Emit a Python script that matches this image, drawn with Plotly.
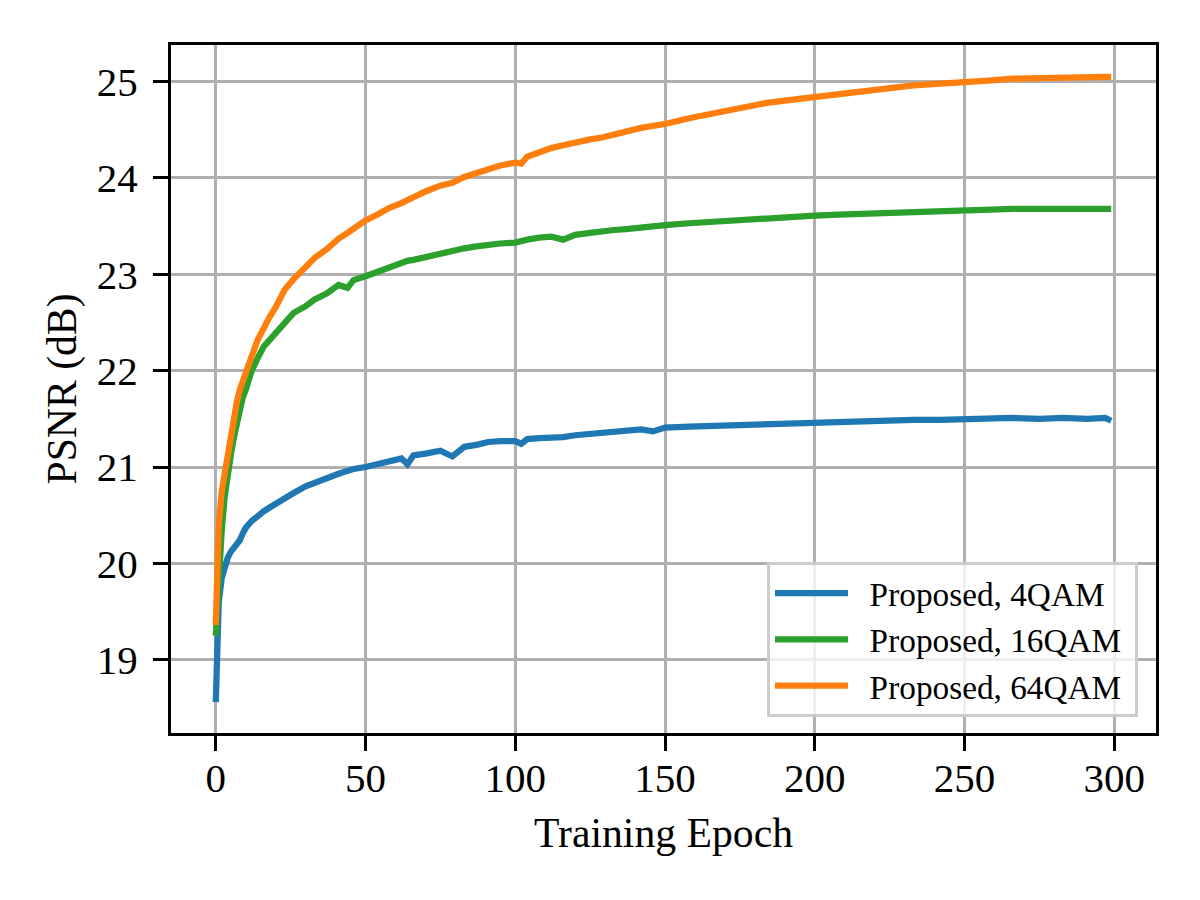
import plotly.graph_objects as go

# training epochs (sampled off the curves)
epochs = [0, 1, 2, 3, 4, 5, 6, 7, 8, 9, 10, 12, 14, 16, 18, 20, 23, 26, 30, 33,
          37, 41, 44, 46, 50, 54, 58, 62, 64, 66, 70, 75, 79, 83, 87, 91, 95, 100,
          102, 104, 108, 112, 116, 120, 125, 129, 133, 137, 142, 146, 150, 158,
          167, 175, 184, 192, 200, 208, 216, 225, 233, 242, 250, 258, 266, 275,
          283, 291, 297, 299]

psnr_4qam = [18.56, 19.60, 19.85, 19.98, 20.06, 20.12, 20.16, 20.19, 20.24, 20.31,
             20.37, 20.44, 20.50, 20.54, 20.58, 20.62, 20.67, 20.73, 20.80, 20.84,
             20.88, 20.93, 20.96, 20.98, 21.00, 21.03, 21.07, 21.09, 21.03, 21.12,
             21.14, 21.17, 21.11, 21.21, 21.23, 21.26, 21.27, 21.27, 21.24, 21.29,
             21.30, 21.30, 21.31, 21.33, 21.34, 21.36, 21.37, 21.38, 21.39, 21.37,
             21.41, 21.42, 21.43, 21.44, 21.44, 21.45, 21.46, 21.47, 21.48, 21.48,
             21.49, 21.49, 21.50, 21.50, 21.51, 21.50, 21.51, 21.50, 21.51, 21.48]

psnr_16qam = [19.25, 19.95, 20.35, 20.70, 20.95, 21.12, 21.30, 21.45, 21.60, 21.72,
              21.80, 22.00, 22.13, 22.25, 22.32, 22.39, 22.50, 22.60, 22.67, 22.74,
              22.80, 22.89, 22.86, 22.94, 22.98, 23.03, 23.08, 23.12, 23.14, 23.15,
              23.18, 23.22, 23.25, 23.27, 23.29, 23.31, 23.32, 23.33, 23.35, 23.36,
              23.38, 23.39, 23.36, 23.41, 23.43, 23.45, 23.46, 23.47, 23.48, 23.50,
              23.51, 23.53, 23.55, 23.57, 23.59, 23.60, 23.61, 23.62, 23.63, 23.64,
              23.65, 23.66, 23.66, 23.67, 23.68, 23.68, 23.68, 23.69, 23.68, 23.68]

psnr_64qam = [19.36, 20.40, 20.75, 20.95, 21.15, 21.32, 21.50, 21.67, 21.80, 21.90,
              22.00, 22.15, 22.32, 22.45, 22.56, 22.66, 22.84, 22.95, 23.08, 23.17,
              23.26, 23.37, 23.43, 23.47, 23.56, 23.62, 23.69, 23.74, 23.77, 23.81,
              23.86, 23.92, 23.95, 24.01, 24.05, 24.09, 24.13, 24.16, 24.15, 24.22,
              24.27, 24.31, 24.34, 24.37, 24.40, 24.42, 24.45, 24.49, 24.52, 24.54,
              24.56, 24.62, 24.68, 24.73, 24.78, 24.81, 24.84, 24.87, 24.90, 24.93,
              24.96, 24.98, 24.99, 25.01, 25.03, 25.04, 25.04, 25.05, 25.05, 25.05]

series = [
    ('Proposed, 4QAM', psnr_4qam, '#1f77b4'),
    ('Proposed, 16QAM', psnr_16qam, '#2ca02c'),
    ('Proposed, 64QAM', psnr_64qam, '#ff7f0e'),
]

FONT = 'Liberation Serif, Times New Roman, serif'
GAP = '\u00a0' * 2  # space between legend line and label

fig = go.Figure()
for name, vals, color in series:
    fig.add_trace(go.Scatter(x=epochs, y=vals, mode='lines', name=GAP + name + '\u00a0',
                             line=dict(color=color, width=6.25)))

axis_style = dict(showline=True, linewidth=3.3, linecolor='black', mirror=True,
                  ticks='outside', ticklen=15, tickwidth=3.3, tickcolor='black',
                  showgrid=True, gridcolor='#b0b0b0', gridwidth=3.3,
                  zeroline=False, tickfont=dict(size=41, color='black'))

fig.update_xaxes(range=[-14.95, 313.95], tickvals=[0, 50, 100, 150, 200, 250, 300],
                 ticklabelstandoff=-8,
                 title=dict(text='Training Epoch', font=dict(size=41.7, color='black'),
                            standoff=18), **axis_style)
fig.update_yaxes(range=[18.24, 25.38], tickvals=[19, 20, 21, 22, 23, 24, 25],
                 ticklabelstandoff=7,
                 title=dict(text='PSNR (dB)', font=dict(size=41.7, color='black'),
                            standoff=8), **axis_style)

# page body has an 8px margin, so the plot box is shifted back by that much
fig.update_layout(
    width=1200, height=900,
    margin=dict(l=163, r=52, t=37, b=175, autoexpand=False),
    paper_bgcolor='white', plot_bgcolor='white',
    font=dict(family=FONT, color='black'),
    legend=dict(x=0.9817, y=0.0233, xanchor='right', yanchor='bottom',
                bgcolor='rgba(255,255,255,0.8)', bordercolor='#cccccc', borderwidth=3,
                font=dict(size=33.3, color='black'), itemwidth=73,
                tracegroupgap=0),
)

fig.write_html('out.html')
